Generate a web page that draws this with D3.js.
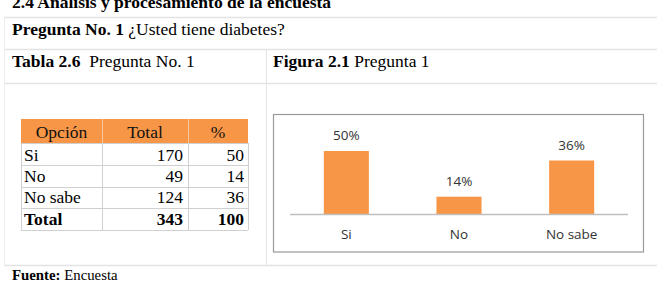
<!DOCTYPE html>
<html><head><meta charset="utf-8">
<script src="https://cdn.jsdelivr.net/npm/d3@7"></script>
<style>
html,body{margin:0;padding:0;background:#fff;}
svg{display:block;}
</style></head>
<body>
<script>
// ---- data ----
const categories = ["Si", "No", "No sabe"];
const totals = [170, 49, 124];
const percents = [50, 14, 36];
const grandTotal = 343;
const grandPercent = 100;
// bar heights (labels show the percents above)
const barValues = [50, 14, 42.5];
const headers = ["Opción", "Total", "%"];

const W = 657, H = 286;
const svg = d3.select("body").append("svg").attr("width", W).attr("height", H);
const serif = "'Liberation Serif','Times New Roman',serif";
const sans = "'Open Sans','Noto Sans',sans-serif";
const orange = "#F79646";
const gridC = "#e3e3e3";
const FS = 17.5;

// ---- document title (cut at top, as in the reference) ----
svg.append("text").attr("x", 12).attr("y", 8).attr("font-family", serif)
  .attr("font-size", FS).attr("font-weight", "bold").attr("fill", "#000")
  .text("2.4 Análisis y procesamiento de la encuesta");

// ---- outer table grid ----
const hLines = [17, 49, 83, 265];
svg.selectAll("line.h").data(hLines).enter().append("line")
  .attr("x1", 4).attr("x2", 657).attr("y1", d => d + 0.5).attr("y2", d => d + 0.5)
  .attr("stroke", gridC).attr("stroke-width", 1.5);
svg.append("line").attr("x1", 4.5).attr("x2", 4.5).attr("y1", 17).attr("y2", 265)
  .attr("stroke", "#eeeeee").attr("stroke-width", 1);
svg.append("line").attr("x1", 266.5).attr("x2", 266.5).attr("y1", 49).attr("y2", 265)
  .attr("stroke", gridC).attr("stroke-width", 1);

function richText(x, y, parts, size) {
  const t = svg.append("text").attr("x", x).attr("y", y).attr("font-family", serif)
    .attr("font-size", size).attr("fill", "#000");
  parts.forEach(p => t.append("tspan").attr("font-weight", p[1] ? "bold" : "normal").text(p[0]));
  return t;
}
richText(12, 35, [["Pregunta No. 1 ", true], ["¿Usted tiene diabetes?", false]], FS);
richText(12, 67, [["Tabla 2.6", true], ["\u00a0 Pregunta No. 1", false]], FS);
richText(273, 67, [["Figura 2.1", true], [" Pregunta 1", false]], FS);
richText(12, 280, [["Fuente:", true], [" Encuesta", false]], 14.8);

// ---- left data table ----
const colX = [21, 102, 188, 248];
const rowY = [119, 143, 165, 187, 208, 230];
const TS = 17.5;
const tg = svg.append("g");
tg.append("rect").attr("x", colX[0]).attr("y", rowY[0]).attr("width", colX[3] - colX[0])
  .attr("height", rowY[1] - rowY[0]).attr("fill", orange);
tg.selectAll("line.hc").data([colX[1], colX[2]]).enter().append("line")
  .attr("x1", d => d + 0.5).attr("x2", d => d + 0.5).attr("y1", rowY[0]).attr("y2", rowY[1])
  .attr("stroke", "#fbc79b").attr("stroke-width", 1);
tg.selectAll("line.rh").data(rowY.slice(1)).enter().append("line")
  .attr("x1", colX[0]).attr("x2", colX[3]).attr("y1", d => d + 0.5).attr("y2", d => d + 0.5)
  .attr("stroke", "#d0d0d0");
tg.selectAll("line.rv").data(colX).enter().append("line")
  .attr("x1", d => d + 0.5).attr("x2", d => d + 0.5).attr("y1", rowY[1]).attr("y2", rowY[5])
  .attr("stroke", "#d0d0d0");
headers.forEach((h, i) => {
  tg.append("text").attr("x", (colX[i] + colX[i + 1]) / 2).attr("y", 138)
    .attr("text-anchor", "middle").attr("font-family", serif).attr("font-size", TS)
    .attr("fill", "#111").text(h);
});
const baseY = [161, 182, 203];
categories.forEach((c, i) => {
  tg.append("text").attr("x", 24).attr("y", baseY[i]).attr("font-family", serif)
    .attr("font-size", TS).text(c);
  tg.append("text").attr("x", 183).attr("y", baseY[i]).attr("text-anchor", "end")
    .attr("font-family", serif).attr("font-size", TS).text(totals[i]);
  tg.append("text").attr("x", 244).attr("y", baseY[i]).attr("text-anchor", "end")
    .attr("font-family", serif).attr("font-size", TS).text(percents[i]);
});
tg.append("text").attr("x", 24).attr("y", 225).attr("font-family", serif).attr("font-size", TS)
  .attr("font-weight", "bold").text("Total");
tg.append("text").attr("x", 183).attr("y", 225).attr("text-anchor", "end").attr("font-family", serif)
  .attr("font-size", TS).attr("font-weight", "bold").text(grandTotal);
tg.append("text").attr("x", 244).attr("y", 225).attr("text-anchor", "end").attr("font-family", serif)
  .attr("font-size", TS).attr("font-weight", "bold").text(grandPercent);

// ---- chart ----
svg.append("rect").attr("x", 273.5).attr("y", 114.5).attr("width", 370).attr("height", 137.5)
  .attr("fill", "#fff").attr("stroke", "#9a9a9a").attr("stroke-width", 1.2);

const x = d3.scaleBand().domain(categories).range([290, 628]).paddingInner(0.6).paddingOuter(0.3);
const y = d3.scaleLinear().domain([0, 50]).range([214.5, 151]);

svg.selectAll("rect.bar").data(categories).enter().append("rect")
  .attr("x", d => x(d)).attr("width", x.bandwidth())
  .attr("y", (d, i) => y(barValues[i])).attr("height", (d, i) => y(0) - y(barValues[i]))
  .attr("fill", orange);

const xAxis = svg.append("g").attr("transform", `translate(0,${y(0)})`)
  .call(d3.axisBottom(x).tickSize(0).tickPadding(15));
xAxis.select(".domain").attr("stroke", "#bfbfbf").attr("stroke-width", 1.5)
  .attr("d", "M290,0H628");
xAxis.selectAll("text").attr("font-family", sans).attr("font-size", 13.5).attr("fill", "#333");

svg.selectAll("text.lbl").data(categories).enter().append("text")
  .attr("x", d => x(d) + x.bandwidth() / 2)
  .attr("y", (d, i) => y(barValues[i]) - 11)
  .attr("text-anchor", "middle").attr("font-family", sans).attr("font-size", 13.5)
  .attr("fill", "#333").text((d, i) => percents[i] + "%");
</script>
</body></html>
